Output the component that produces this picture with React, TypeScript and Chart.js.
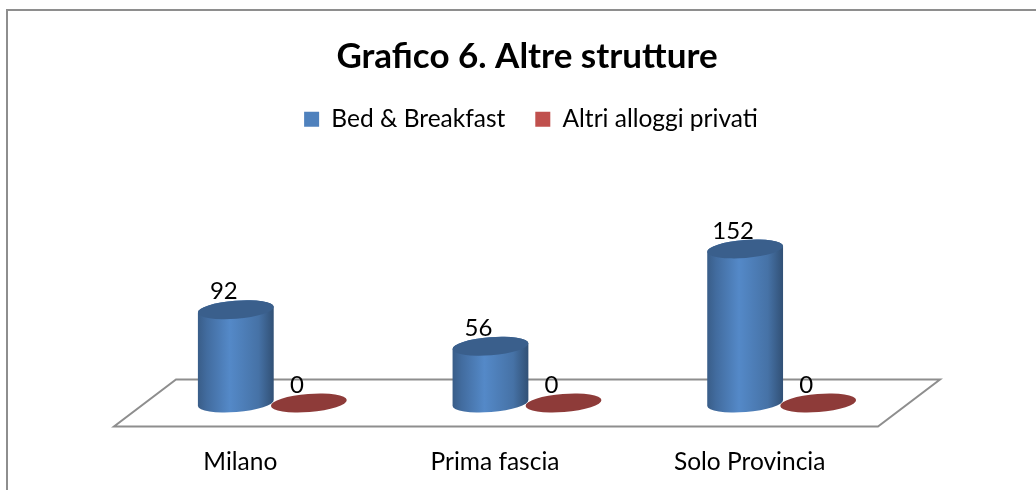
import React, { useEffect, useRef } from "react";
import { Chart, BarController, BarElement, registerables } from "chart.js";

const categories = ["Milano", "Prima fascia", "Solo Provincia"];
const bedBreakfast = [92, 56, 152];
const altriAlloggi = [0, 0, 0];
const titleText = "Grafico 6. Altre strutture";
const seriesNames = ["Bed & Breakfast", "Altri alloggi privati"];
const seriesColors = ["#4f81bd", "#c0504d"];

const FONT = "Lato";
const TILT = (-4.5 * Math.PI) / 180;
const RY = 9;

function shade(hex: string, f: number) {
  const n = parseInt(hex.slice(1), 16);
  const c = [(n >> 16) & 255, (n >> 8) & 255, n & 255].map((v) => Math.min(255, Math.round(v * f)));
  return `rgb(${c[0]},${c[1]},${c[2]})`;
}

class CylinderElement extends BarElement {
  static id = "cylinder";
  static defaults = { ...BarElement.defaults };
  draw(ctx: CanvasRenderingContext2D) {
    const { x, y, base, width } = this as any;
    const color = (this as any).options.backgroundColor as string;
    const rx = width / 2;
    ctx.save();
    if (Math.abs(base - y) > 0.5) {
      const g = ctx.createLinearGradient(x - rx, 0, x + rx, 0);
      g.addColorStop(0, shade(color, 0.72));
      g.addColorStop(0.12, shade(color, 0.84));
      g.addColorStop(0.42, shade(color, 1.06));
      g.addColorStop(0.8, shade(color, 0.88));
      g.addColorStop(1, shade(color, 0.62));
      ctx.beginPath();
      ctx.ellipse(x, base, rx, RY, TILT, 0, Math.PI);
      ctx.ellipse(x, y, rx, RY, TILT, Math.PI, Math.PI * 2);
      ctx.closePath();
      ctx.fillStyle = g;
      ctx.fill();
    }
    ctx.beginPath();
    ctx.ellipse(x, y, rx, RY, TILT, 0, Math.PI * 2);
    ctx.fillStyle = shade(color, 0.74);
    ctx.fill();
    ctx.restore();
  }
}

class CylinderController extends BarController {
  static id = "cylinderBar";
  static defaults = { ...BarController.defaults, dataElementType: "cylinder" };
}

Chart.register(...registerables, CylinderElement as any, CylinderController as any);

const framePlugin = {
  id: "frame",
  afterLayout(chart: any) {
    chart.legend.left += 4;
    chart.legend.right += 4;
  },
  beforeDraw(chart: any) {
    const { ctx, width, height } = chart;
    ctx.save();
    ctx.strokeStyle = "#8e8e8e";
    ctx.lineWidth = 2;
    ctx.beginPath();
    ctx.moveTo(7, height);
    ctx.lineTo(7, 10);
    ctx.lineTo(width, 10);
    ctx.stroke();
    ctx.restore();
  },
};

const floorPlugin = {
  id: "floor",
  beforeDatasetsDraw(chart: any) {
    const { ctx, chartArea, scales } = chart;
    const y0 = scales.y.getPixelForValue(0);
    const dx = 31;
    const dy = 23.5;
    ctx.save();
    ctx.strokeStyle = "#8e8e8e";
    ctx.lineWidth = 2;
    ctx.beginPath();
    ctx.moveTo(chartArea.left - dx, y0 + dy);
    ctx.lineTo(chartArea.right - dx, y0 + dy);
    ctx.lineTo(chartArea.right + dx, y0 - dy);
    ctx.lineTo(chartArea.left + dx, y0 - dy);
    ctx.closePath();
    ctx.stroke();
    ctx.restore();
  },
};

const valueLabelPlugin = {
  id: "valueLabels",
  afterDatasetsDraw(chart: any) {
    const { ctx } = chart;
    ctx.save();
    ctx.font = `24px ${FONT}`;
    ctx.fillStyle = "#000";
    ctx.textAlign = "center";
    ctx.textBaseline = "middle";
    chart.data.datasets.forEach((ds: any, i: number) => {
      chart.getDatasetMeta(i).data.forEach((el: any, j: number) => {
        ctx.fillText(String(ds.data[j]), el.x - 12, el.y - 18);
      });
    });
    ctx.restore();
  },
};

export default function App() {
  const ref = useRef<HTMLCanvasElement>(null);
  useEffect(() => {
    const chart = new Chart(ref.current!, {
      type: "cylinderBar" as any,
      data: {
        labels: categories,
        datasets: [
          { label: seriesNames[0], data: bedBreakfast, backgroundColor: seriesColors[0], clip: false },
          { label: seriesNames[1], data: altriAlloggi, backgroundColor: seriesColors[1], clip: false },
        ],
      },
      options: {
        animation: false,
        responsive: false,
        layout: { padding: { left: 145, right: 127, top: 20, bottom: 12 } },
        datasets: { cylinderBar: { categoryPercentage: 0.5737, barPercentage: 1.041 } } as any,
        plugins: {
          title: {
            display: true,
            text: titleText,
            color: "#000",
            font: { family: FONT, size: 35, weight: "bold" },
            padding: { top: 16, bottom: -1 },
          },
          legend: {
            position: "top",
            labels: {
              color: "#000",
              boxWidth: 15,
              boxHeight: 15,
              padding: 30,
              font: { family: FONT, size: 24.5 },
            },
          },
          tooltip: { enabled: false },
        },
        scales: {
          x: {
            afterFit(scale: any) {
              scale.height = 75;
            },
            grid: { display: false },
            border: { display: false },
            ticks: { color: "#000", font: { family: FONT, size: 24.5 }, padding: 36, labelOffset: -32, maxRotation: 0 },
          },
          y: { display: false, min: 0, max: 258, grid: { display: false } },
        },
      } as any,
      plugins: [framePlugin, floorPlugin, valueLabelPlugin],
    });
    return () => chart.destroy();
  }, []);
  return (
    <canvas
      ref={ref}
      width={1036}
      height={490}
      style={{ position: "fixed", left: 0, top: 0, width: 1036, height: 490, background: "#fff" }}
    />
  );
}
